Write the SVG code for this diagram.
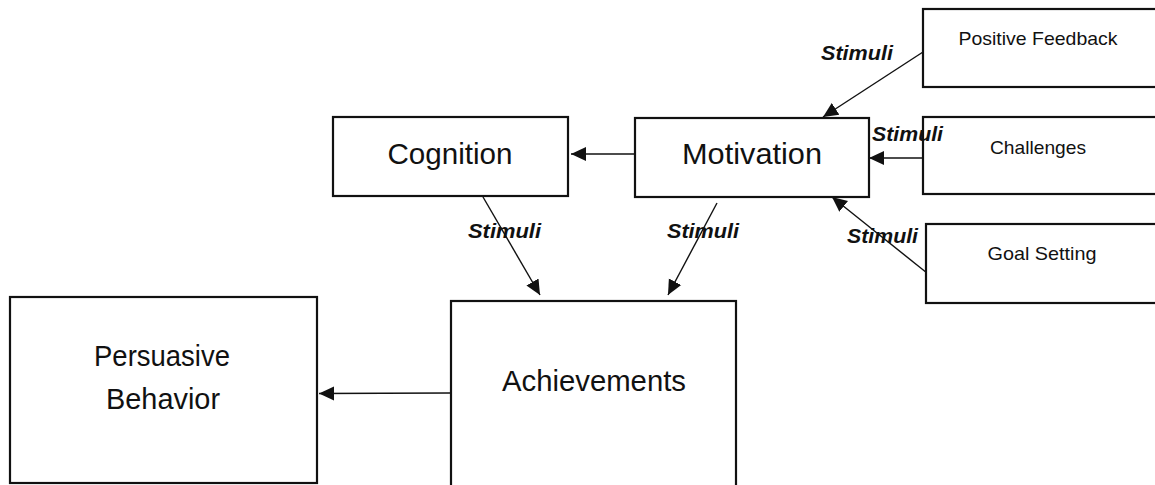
<svg xmlns="http://www.w3.org/2000/svg" width="1155" height="485" viewBox="0 0 1155 485">
<style>
.box{fill:#fff;stroke:#111;stroke-width:2.2}
.big{font-family:"Liberation Sans",Arial,sans-serif;font-size:30px;fill:#111;text-anchor:middle}
.sm{font-family:"Liberation Sans",Arial,sans-serif;font-size:19px;fill:#111;text-anchor:middle}
.lbl{font-family:"Liberation Sans",Arial,sans-serif;font-size:21px;font-weight:bold;font-style:italic;fill:#111}
.edge{stroke:#111;stroke-width:1.4;fill:none;marker-end:url(#ah)}
</style>
<defs>
<marker id="ah" markerUnits="userSpaceOnUse" markerWidth="16" markerHeight="16" viewBox="0 0 16 16" refX="15" refY="8" orient="auto">
<path d="M0,1 L15,8 L0,15 z" fill="#111"/>
</marker>
</defs>
<rect width="1155" height="485" fill="#fff"/>
<g id="connectors">
<line class="edge" x1="450" y1="393" x2="319" y2="393.5"/>
<line class="edge" x1="635" y1="154" x2="571" y2="154"/>
<line class="edge" x1="483" y1="197" x2="540" y2="295"/>
<line class="edge" x1="717" y1="203" x2="668" y2="295"/>
<line class="edge" x1="923" y1="52" x2="823" y2="117"/>
<line class="edge" x1="923" y1="158" x2="869" y2="158"/>
<line class="edge" x1="927" y1="273" x2="832" y2="197"/>
</g>
<g id="positive-feedback">
<rect class="box" x="923" y="9" width="240" height="78"/>
<text class="sm" x="1038" y="45" textLength="159" lengthAdjust="spacingAndGlyphs">Positive Feedback</text>
</g>
<g id="challenges">
<rect class="box" x="923" y="117" width="240" height="77"/>
<text class="sm" x="1038" y="154" textLength="96" lengthAdjust="spacingAndGlyphs">Challenges</text>
</g>
<g id="goal-setting">
<rect class="box" x="926" y="224" width="240" height="79"/>
<text class="sm" x="1042" y="260" textLength="109" lengthAdjust="spacingAndGlyphs">Goal Setting</text>
</g>
<g id="cognition">
<rect class="box" x="333" y="117" width="235" height="79"/>
<text class="big" x="450" y="164" textLength="125" lengthAdjust="spacingAndGlyphs">Cognition</text>
</g>
<g id="motivation">
<rect class="box" x="635" y="118" width="234" height="79"/>
<text class="big" x="752" y="164" textLength="140" lengthAdjust="spacingAndGlyphs">Motivation</text>
</g>
<g id="achievements">
<rect class="box" x="451" y="301" width="285" height="190"/>
<text class="big" x="594" y="391" textLength="184" lengthAdjust="spacingAndGlyphs">Achievements</text>
</g>
<g id="persuasive-behavior">
<rect class="box" x="10" y="297" width="307" height="186"/>
<text class="big" x="162" y="366" textLength="136" lengthAdjust="spacingAndGlyphs">Persuasive</text>
<text class="big" x="163" y="409" textLength="114" lengthAdjust="spacingAndGlyphs">Behavior</text>
</g>
<g id="labels">
<text class="lbl" x="821" y="60" textLength="72" lengthAdjust="spacingAndGlyphs">Stimuli</text>
<text class="lbl" x="872" y="141" textLength="71" lengthAdjust="spacingAndGlyphs">Stimuli</text>
<text class="lbl" x="847" y="243" textLength="71" lengthAdjust="spacingAndGlyphs">Stimuli</text>
<text class="lbl" x="468" y="238" textLength="73" lengthAdjust="spacingAndGlyphs">Stimuli</text>
<text class="lbl" x="667" y="238" textLength="72" lengthAdjust="spacingAndGlyphs">Stimuli</text>
</g>
</svg>
